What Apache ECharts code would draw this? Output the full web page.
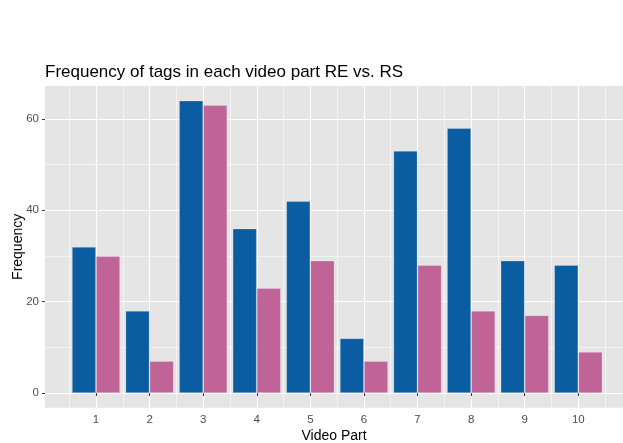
<!DOCTYPE html>
<html>
<head>
<meta charset="utf-8">
<script src="https://cdn.jsdelivr.net/npm/echarts@6/dist/echarts.min.js"></script>
<style>html,body{margin:0;padding:0;background:#fff}#c{width:623px;height:443px}</style>
</head>
<body>
<div id="c"></div>
<script>
const categories = [1, 2, 3, 4, 5, 6, 7, 8, 9, 10];
const reValues = [32, 18, 64, 36, 42, 12, 53, 58, 29, 28];
const rsValues = [30, 7, 63, 23, 29, 7, 28, 18, 17, 9];
const yTicks = [0, 20, 40, 60];

const FONT = 'Liberation Sans, Arial, Helvetica, sans-serif';
const chart = echarts.init(document.getElementById('c'));
const pairs = v => categories.map((c, i) => [c, v[i]]);

chart.setOption({
  animation: false,
  backgroundColor: '#ffffff',
  title: {
    text: 'Frequency of tags in each video part RE vs. RS',
    left: 40, top: 59,
    textStyle: {fontFamily: FONT, fontSize: 17, fontWeight: 'normal', color: '#000'}
  },
  grid: [
    {left: 45, right: 0, top: 86, bottom: 35.3, show: true, backgroundColor: '#E5E5E5', borderWidth: 0,
     outerBoundsMode: 'none', containLabel: false},
    {left: 42.4, right: 0, top: 86, bottom: 35.3, show: false, outerBoundsMode: 'none', containLabel: false}
  ],
  xAxis: [
    {gridIndex: 0, type: 'value', min: 0, max: 1,
     axisLine: {show: false}, axisTick: {show: false}, axisLabel: {show: false}, splitLine: {show: false},
     name: 'Video Part', nameLocation: 'middle', nameGap: 21, nameMoveOverlap: false,
     nameTextStyle: {fontFamily: FONT, fontSize: 14, color: '#000'}},
    {gridIndex: 1, type: 'value', min: 0, max: 10.834, interval: 1,
     axisLine: {show: false},
     axisTick: {show: true, length: 3, customValues: categories, lineStyle: {color: '#333333', width: 1}},
     axisLabel: {customValues: categories, margin: 6, fontFamily: FONT, fontSize: 11.5, color: '#4D4D4D'},
     splitLine: {show: true, lineStyle: {color: '#ffffff', width: 1.1}},
     minorTick: {show: false, splitNumber: 2},
     minorSplitLine: {show: true, lineStyle: {color: '#ffffff', width: 0.55}}}
  ],
  yAxis: [
    {gridIndex: 0, type: 'value', min: -3.2, max: 67.2, splitNumber: 3,
     axisLine: {show: false},
     axisTick: {show: true, length: 3, customValues: yTicks, lineStyle: {color: '#333333', width: 1}},
     axisLabel: {customValues: yTicks, margin: 6, fontFamily: FONT, fontSize: 11.5, color: '#4D4D4D'},
     splitLine: {show: true, lineStyle: {color: '#ffffff', width: 1.1}},
     minorTick: {show: false, splitNumber: 2},
     minorSplitLine: {show: true, lineStyle: {color: '#ffffff', width: 0.55}},
     name: 'Frequency', nameLocation: 'middle', nameGap: 20, nameMoveOverlap: false,
     nameTextStyle: {fontFamily: FONT, fontSize: 14, color: '#000'}},
    {gridIndex: 1, type: 'value', min: -3.2, max: 67.2, show: false, splitLine: {show: false}}
  ],
  series: [
    {name: 'RE', type: 'bar', xAxisIndex: 1, yAxisIndex: 1, data: pairs(reValues),
     barWidth: 24.1, barGap: '0%',
     itemStyle: {color: '#0B5DA1', borderColor: 'rgba(255,255,255,0.3)', borderWidth: 0.8}},
    {name: 'RS', type: 'bar', xAxisIndex: 1, yAxisIndex: 1, data: pairs(rsValues),
     barWidth: 24.1, barGap: '0%',
     itemStyle: {color: '#C06396', borderColor: 'rgba(255,255,255,0.3)', borderWidth: 0.8}}
  ]
});
</script>
</body>
</html>
